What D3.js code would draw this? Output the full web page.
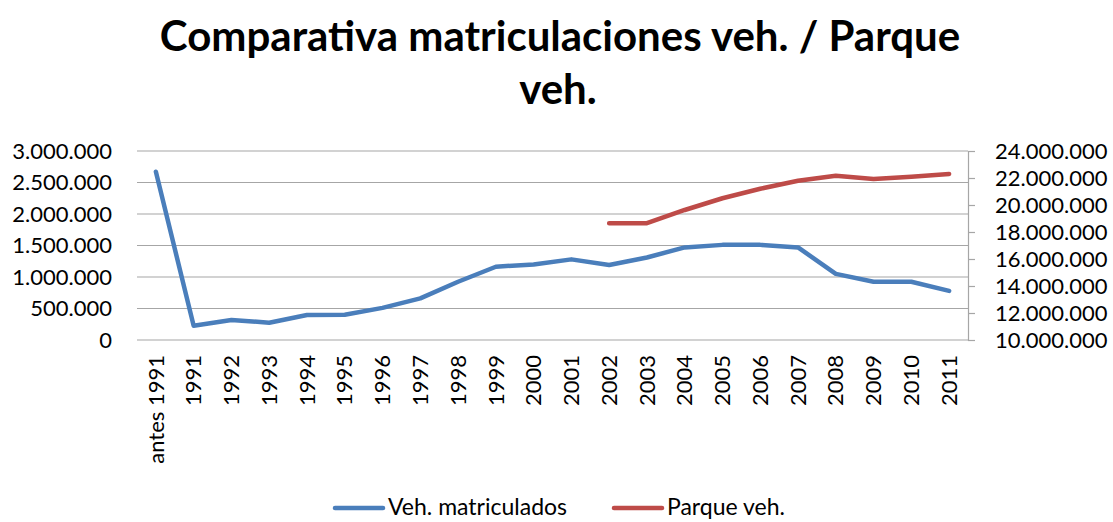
<!DOCTYPE html>
<html>
<head>
<meta charset="utf-8">
<script src="https://cdn.jsdelivr.net/npm/d3@7/dist/d3.min.js"></script>
<style>
  body { margin: 0; background: #fff; }
  text { font-family: Lato, "Open Sans", sans-serif; fill: #000; }
</style>
</head>
<body>
<div id="chart"></div>
<script>
// data
var categories = ['antes 1991', '1991', '1992', '1993', '1994', '1995', '1996', '1997', '1998', '1999', '2000',
	'2001', '2002', '2003', '2004', '2005', '2006', '2007', '2008', '2009', '2010', '2011'];
var matriculados = [2670000, 227000, 317000, 275000, 397000, 400000, 510000, 660000, 925000, 1163000, 1200000,
	1280000, 1190000, 1310000, 1470000, 1510000, 1510000, 1470000, 1050000, 925000, 925000, 780000];
var parque = [null, null, null, null, null, null, null, null, null, null, null,
	null, 18640000, 18650000, 19630000, 20500000, 21200000, 21800000, 22170000, 21930000, 22100000, 22300000];
var leftTicks = [0, 500000, 1000000, 1500000, 2000000, 2500000, 3000000];
var rightTicks = [10000000, 12000000, 14000000, 16000000, 18000000, 20000000, 22000000, 24000000];

var W = 1113, H = 522;
var margin = { top: 151, right: 145, bottom: 182, left: 137 };
var width = W - margin.left - margin.right,
	height = H - margin.top - margin.bottom;

var svg = d3.select('#chart').append('svg')
	.attr('width', W)
	.attr('height', H);

// title
svg.append('text')
	.attr('x', 560).attr('y', 51)
	.attr('text-anchor', 'middle')
	.attr('font-size', 42).attr('font-weight', 'bold')
	.text('Comparativa matriculaciones veh. / Parque');
svg.append('text')
	.attr('x', 558).attr('y', 104)
	.attr('text-anchor', 'middle')
	.attr('font-size', 42).attr('font-weight', 'bold')
	.text('veh.');

var g = svg.append('g')
	.attr('transform', 'translate(' + margin.left + ',' + margin.top + ')');

var x = d3.scaleBand().domain(categories).range([0, width]);
var yL = d3.scaleLinear().domain([0, 3000000]).range([height, 0]);
var yR = d3.scaleLinear().domain([10000000, 24000000]).range([height, 0]);

var fmt = function (d) { return d3.format(',')(d).replace(/,/g, '.'); };

// gridlines
g.append('g')
	.selectAll('line')
	.data(leftTicks)
	.enter().append('line')
	.attr('x1', 0).attr('x2', width)
	.attr('y1', function (d) { return yL(d); })
	.attr('y2', function (d) { return yL(d); })
	.attr('stroke', '#a6a6a6')
	.attr('stroke-width', 1.2);

// left axis
var yAxisL = g.append('g')
	.call(d3.axisLeft(yL).tickValues(leftTicks).tickFormat(fmt).tickSize(0).tickPadding(25));
yAxisL.select('.domain').remove();
yAxisL.selectAll('.tick text')
	.attr('font-size', 22)
	.attr('font-family', 'Lato')
	.attr('fill', '#000');

// right axis
var yAxisR = g.append('g')
	.attr('transform', 'translate(' + width + ',0)')
	.call(d3.axisRight(yR).tickValues(rightTicks).tickFormat(fmt).tickSize(7).tickPadding(20));
yAxisR.selectAll('.domain').attr('stroke', '#a6a6a6').attr('stroke-width', 1.2);
yAxisR.selectAll('.tick line').attr('stroke', '#a6a6a6').attr('stroke-width', 1.2);
yAxisR.selectAll('.tick text')
	.attr('font-size', 22)
	.attr('font-family', 'Lato')
	.attr('fill', '#000');

// x axis labels, rotated
var xAxis = g.append('g')
	.attr('transform', 'translate(0,' + height + ')')
	.call(d3.axisBottom(x).tickSize(0).tickPadding(0));
xAxis.select('.domain').remove();
xAxis.selectAll('.tick text')
	.attr('font-size', 22)
	.attr('font-family', 'Lato')
	.attr('fill', '#000')
	.attr('text-anchor', 'end')
	.attr('transform', 'rotate(-90)')
	.attr('x', -15)
	.attr('y', 0)
	.attr('dy', '0.35em');

// lines
var lineL = d3.line()
	.defined(function (d) { return d != null; })
	.x(function (d, i) { return x(categories[i]) + x.bandwidth() / 2; })
	.y(function (d) { return yL(d); });
var lineR = d3.line()
	.defined(function (d) { return d != null; })
	.x(function (d, i) { return x(categories[i]) + x.bandwidth() / 2; })
	.y(function (d) { return yR(d); });

g.append('path')
	.datum(matriculados)
	.attr('d', lineL)
	.attr('fill', 'none')
	.attr('stroke', '#4a7ebb')
	.attr('stroke-width', 4.5)
	.attr('stroke-linejoin', 'round')
	.attr('stroke-linecap', 'round');

g.append('path')
	.datum(parque)
	.attr('d', lineR)
	.attr('fill', 'none')
	.attr('stroke', '#be4b48')
	.attr('stroke-width', 4.5)
	.attr('stroke-linejoin', 'round')
	.attr('stroke-linecap', 'round');

// legend
var legendData = [
	{ name: 'Veh. matriculados', color: '#4a7ebb', x: 335 },
	{ name: 'Parque veh.', color: '#be4b48', x: 614 }
];
var legend = svg.append('g');
legendData.forEach(function (d) {
	legend.append('line')
		.attr('x1', d.x).attr('x2', d.x + 48)
		.attr('y1', 508).attr('y2', 508)
		.attr('stroke', d.color)
		.attr('stroke-width', 4.5)
		.attr('stroke-linecap', 'round');
	legend.append('text')
		.attr('x', d.x + 53).attr('y', 515)
		.attr('font-size', 23)
		.text(d.name);
});
</script>
</body>
</html>
